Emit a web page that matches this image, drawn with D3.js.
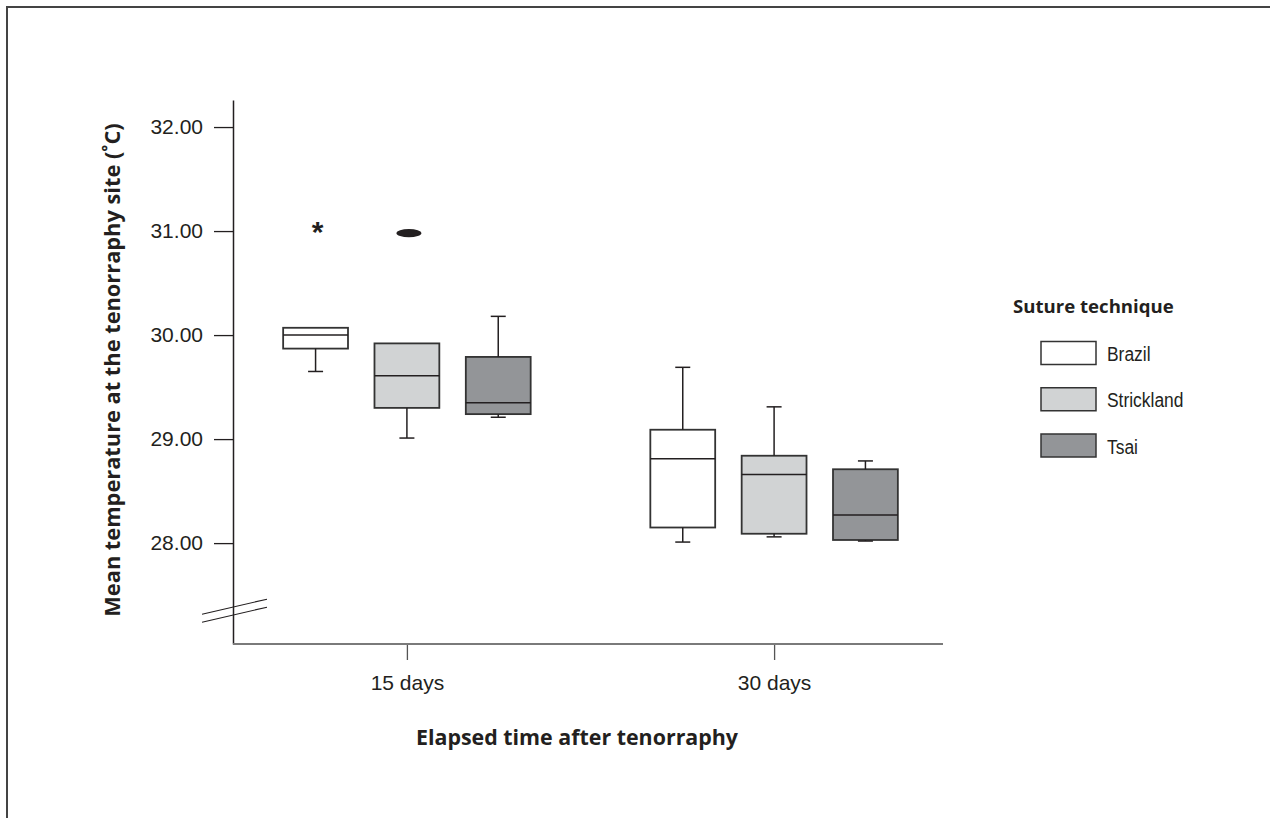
<!DOCTYPE html>
<html>
<head>
<meta charset="utf-8">
<script src="https://cdn.jsdelivr.net/npm/d3@7"></script>
<style>
  body { margin: 0; background: #fff; }
  svg { display: block; }
</style>
</head>
<body>
<div id="plot-container"></div>
<script>
// Data
const timepoints = ['15 days', '30 days'];
const techniques = ['Brazil', 'Strickland', 'Tsai'];
const techColors = ['#ffffff', '#d1d3d4', '#939598'];
const yTicks = [28, 29, 30, 31, 32];

// five-number summaries: [min, q1, median, q3, max]
const stats15 = [
  [29.65, 29.87, 30.00, 30.07, 30.07],
  [29.01, 29.30, 29.61, 29.92, 29.92],
  [29.21, 29.24, 29.35, 29.79, 30.18]
];
const stats30 = [
  [28.01, 28.15, 28.81, 29.09, 29.69],
  [28.06, 28.09, 28.66, 28.84, 29.31],
  [28.02, 28.03, 28.27, 28.71, 28.79]
];
// outliers: time, technique, value, kind
const outlierTime = ['15 days', '15 days'];
const outlierTech = ['Brazil', 'Strickland'];
const outlierValue = [31.06, 30.98];
const outlierKind = ['extreme', 'outlier'];

const W = 1270, H = 818;
const ink = '#231f20';

const svg = d3.select('#plot-container')
  .append('svg')
  .attr('width', W)
  .attr('height', H);

// page frame (top + left edge only)
svg.append('path')
  .attr('d', `M7,${H} V7 H${W}`)
  .attr('fill', 'none')
  .attr('stroke', '#444')
  .attr('stroke-width', 2);

const axisX0 = 233, axisX1 = 943;

const yScale = d3.scaleLinear()
  .domain([27.03, 32.26])
  .range([644, 100]);

const xScale = d3.scalePoint()
  .domain(timepoints)
  .range([238, axisX1])
  .padding(0.46);

const inner = d3.scaleBand()
  .domain(techniques)
  .range([-137, 137])
  .paddingInner(0.29)
  .paddingOuter(0.145);

const colorScale = d3.scaleOrdinal()
  .domain(techniques)
  .range(techColors);

// y axis
const yAxis = svg.append('g')
  .attr('transform', `translate(${axisX0},0)`)
  .call(d3.axisLeft(yScale)
    .tickValues(yTicks)
    .tickFormat(d3.format('.2f'))
    .tickSize(19)
    .tickSizeOuter(0)
    .tickPadding(11));
yAxis.select('.domain').attr('stroke', ink).attr('stroke-width', 1.5);
yAxis.selectAll('.tick line').attr('stroke', ink).attr('stroke-width', 1.3);
yAxis.selectAll('text')
  .attr('fill', ink)
  .style('font-family', '"Liberation Sans", Arial, sans-serif')
  .style('font-size', '21px');

// x axis
const xAxis = svg.append('g')
  .attr('transform', `translate(0,${yScale.range()[0]})`)
  .call(d3.axisBottom(xScale)
    .tickSize(16)
    .tickSizeOuter(0)
    .tickPadding(15));
xAxis.select('.domain').remove();
xAxis.selectAll('.tick line').attr('stroke', '#555').attr('stroke-width', 1.3);
xAxis.selectAll('text')
  .attr('fill', ink)
  .style('font-family', '"Liberation Sans", Arial, sans-serif')
  .style('font-size', '21px');
svg.append('line')
  .attr('x1', axisX0).attr('x2', axisX1)
  .attr('y1', yScale.range()[0]).attr('y2', yScale.range()[0])
  .attr('stroke', '#7a7a7a')
  .attr('stroke-width', 2);

// axis break marks
const breakAt = 27.35;
[-4, 4].forEach(off => {
  const yc = yScale(breakAt) + off;
  svg.append('line')
    .attr('x1', axisX0 - 31).attr('y1', yc + 7.5)
    .attr('x2', axisX0 + 34).attr('y2', yc - 7.5)
    .attr('stroke', ink)
    .attr('stroke-width', 1.2);
});

// boxes
const capW = 15;
const allStats = [stats15, stats30];
timepoints.forEach((tp, ti) => {
  allStats[ti].forEach((s, k) => {
    const tech = techniques[k];
    const cx = xScale(tp) + inner(tech) + inner.bandwidth() / 2;
    const x0 = xScale(tp) + inner(tech);
    const g = svg.append('g');
    // whiskers
    if (s[0] < s[1]) {
      g.append('line').attr('x1', cx).attr('x2', cx)
        .attr('y1', yScale(s[1])).attr('y2', yScale(s[0]));
      g.append('line').attr('x1', cx - capW / 2).attr('x2', cx + capW / 2)
        .attr('y1', yScale(s[0])).attr('y2', yScale(s[0]));
    }
    if (s[4] > s[3]) {
      g.append('line').attr('x1', cx).attr('x2', cx)
        .attr('y1', yScale(s[3])).attr('y2', yScale(s[4]));
      g.append('line').attr('x1', cx - capW / 2).attr('x2', cx + capW / 2)
        .attr('y1', yScale(s[4])).attr('y2', yScale(s[4]));
    }
    g.append('rect')
      .attr('x', x0)
      .attr('y', yScale(s[3]))
      .attr('width', inner.bandwidth())
      .attr('height', yScale(s[1]) - yScale(s[3]))
      .attr('fill', colorScale(tech));
    g.append('line')
      .attr('x1', x0).attr('x2', x0 + inner.bandwidth())
      .attr('y1', yScale(s[2])).attr('y2', yScale(s[2]));
    g.selectAll('line').attr('stroke', ink).attr('stroke-width', 1.5);
    g.select('rect').attr('stroke', '#333').attr('stroke-width', 1.8);
    g.select('rect').lower();
  });
});

// outliers
outlierValue.forEach((v, i) => {
  const cx = xScale(outlierTime[i]) + inner(outlierTech[i]) + inner.bandwidth() / 2;
  if (outlierKind[i] === 'extreme') {
    svg.append('text')
      .attr('x', cx + 2)
      .attr('y', yScale(v) + 17.5)
      .attr('text-anchor', 'middle')
      .attr('fill', ink)
      .style('font-family', '"Liberation Sans", Arial, sans-serif')
      .style('font-weight', 'bold')
      .style('font-size', '30px')
      .text('*');
  } else {
    svg.append('ellipse')
      .attr('cx', cx + 2)
      .attr('cy', yScale(v))
      .attr('rx', 12.5)
      .attr('ry', 4.2)
      .attr('fill', ink);
  }
});

// axis titles
const titleFont = '"Open Sans", "Noto Sans", sans-serif';
svg.append('text')
  .attr('x', 577)
  .attr('y', 745)
  .attr('text-anchor', 'middle')
  .attr('fill', ink)
  .style('font-family', titleFont)
  .style('font-weight', 'bold')
  .style('font-size', '21.4px')
  .text('Elapsed time after tenorraphy');

svg.append('text')
  .attr('transform', 'translate(120,370) rotate(-90)')
  .attr('text-anchor', 'middle')
  .attr('fill', ink)
  .style('font-family', titleFont)
  .style('font-weight', 'bold')
  .style('font-size', '21.8px')
  .text('Mean temperature at the tenorraphy site (˚C)');

// legend
const legend = svg.append('g').attr('transform', 'translate(1013,0)');
legend.append('text')
  .attr('x', 0)
  .attr('y', 313)
  .attr('fill', ink)
  .style('font-family', titleFont)
  .style('font-weight', 'bold')
  .style('font-size', '18.6px')
  .text('Suture technique');

const legendY = d3.scalePoint()
  .domain(techniques)
  .range([353, 445.5]);

techniques.forEach(t => {
  legend.append('rect')
    .attr('x', 28)
    .attr('y', legendY(t) - 11.5)
    .attr('width', 55)
    .attr('height', 23)
    .attr('fill', colorScale(t))
    .attr('stroke', '#333')
    .attr('stroke-width', 1.5);
  // condensed face: squeeze the regular face horizontally
  legend.append('text')
    .attr('transform', `translate(94,${legendY(t) + 8}) scale(0.83,1)`)
    .attr('fill', ink)
    .style('font-family', '"Liberation Sans", Arial, sans-serif')
    .style('font-size', '21px')
    .text(t);
});
</script>
</body>
</html>
